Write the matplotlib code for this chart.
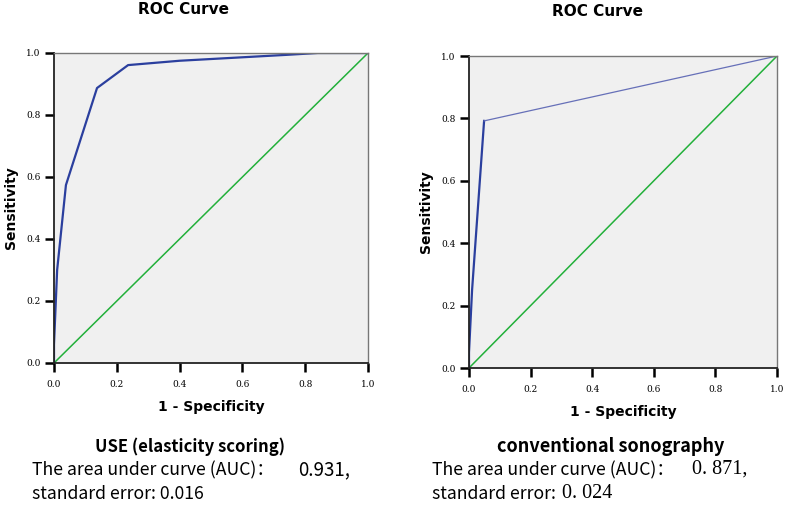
import matplotlib.pyplot as plt

# ROC points
use_fpr = [0.0, 0.0, 0.01, 0.038, 0.137, 0.236, 0.40, 0.74, 0.84, 1.0]
use_tpr = [0.0, 0.06, 0.30, 0.574, 0.887, 0.961, 0.975, 0.994, 1.0, 1.0]

sono_fpr = [0.0, 0.0, 0.01, 0.049, 1.0]
sono_tpr = [0.0, 0.05, 0.25, 0.792, 1.0]

ticks = [0.0, 0.2, 0.4, 0.6, 0.8, 1.0]
tick_labels = ["0.0", "0.2", "0.4", "0.6", "0.8", "1.0"]

W, H = 787, 507
fig = plt.figure(figsize=(W / 100, H / 100), dpi=100)
fig.patch.set_facecolor("white")

cap_font = ["Noto Sans CJK SC", "DejaVu Sans"]


def make_axes(x0, x1, ytop, ybot):
    return fig.add_axes([x0 / W, 1 - ybot / H, (x1 - x0) / W, (ybot - ytop) / H])


def tick_marks(ax):
    # outward tick marks drawn as short segments off the bottom / left spines
    bb = ax.get_position()
    lx = 9 / (bb.height * H)
    ly = 9 / (bb.width * W)
    xs, ys = [], []
    for t in ticks:
        xs += [t, t, None]
        ys += [0, -lx, None]
    ax.plot(xs, ys, color="black", lw=1.8, clip_on=False,
            transform=ax.get_xaxis_transform(), solid_capstyle="butt")
    xs, ys = [], []
    for t in ticks:
        xs += [0, -ly, None]
        ys += [t, t, None]
    ax.plot(xs, ys, color="black", lw=1.8, clip_on=False,
            transform=ax.get_yaxis_transform(), solid_capstyle="butt")


def style(ax, title, title_x, title_y):
    ax.set_facecolor("#f0f0f0")
    ax.set_xlim(0, 1)
    ax.set_ylim(0, 1)
    ax.plot([0, 1], [0, 1], color="#22b03a", lw=1.1)
    ax.set_xticks(ticks)
    ax.set_yticks(ticks)
    ax.set_xticklabels(tick_labels, family="DejaVu Serif", fontsize=6.5)
    ax.set_yticklabels(tick_labels, family="DejaVu Serif", fontsize=6.5)
    ax.tick_params(bottom=False, left=False, top=False, right=False)
    ax.tick_params(axis="x", pad=9)
    ax.tick_params(axis="y", pad=6)
    tick_marks(ax)
    for side in ["left", "bottom"]:
        ax.spines[side].set_color("#222222")
        ax.spines[side].set_linewidth(1.3)
    for side in ["right", "top"]:
        ax.spines[side].set_color("#777777")
        ax.spines[side].set_linewidth(1.0)
    ax.set_xlabel("1 - Specificity", fontsize=10, fontweight="bold", labelpad=8)
    ax.set_ylabel("Sensitivity", fontsize=10, fontweight="bold", labelpad=6)
    fig.text(title_x / W, 1 - title_y / H, title, ha="center", va="center",
             fontsize=11, fontweight="bold")


ax1 = make_axes(54, 368, 53, 363)
style(ax1, "ROC Curve", 184, 10)
ax1.plot(use_fpr, use_tpr, color="#2b3f9e", lw=1.6)

ax2 = make_axes(469, 777, 56, 368)
style(ax2, "ROC Curve", 597, 12)
ax2.plot(sono_fpr[:4], sono_tpr[:4], color="#2b3f9e", lw=1.6)
ax2.plot(sono_fpr[3:], sono_tpr[3:], color="#6670b8", lw=0.9)

# captions under the charts
fig.text(190 / W, 1 - 447 / H, "USE (elasticity scoring)", ha="center", va="center",
         fontsize=12, fontweight="bold", family=cap_font)
fig.text(32 / W, 1 - 470 / H, "The area under curve (AUC)\uff1a", ha="left",
         va="center", fontsize=12.7, family=cap_font)
fig.text(298 / W, 1 - 470 / H, "0.931,", ha="left", va="center",
         fontsize=13.5, family=cap_font)
fig.text(32 / W, 1 - 494 / H, "standard error: 0.016", ha="left", va="center",
         fontsize=12.7, family=cap_font)

fig.text(611 / W, 1 - 447 / H, "conventional sonography", ha="center", va="center",
         fontsize=13, fontweight="bold", family=cap_font)
fig.text(432 / W, 1 - 470 / H, "The area under curve (AUC)\uff1a", ha="left",
         va="center", fontsize=12.7, family=cap_font)
fig.text(692 / W, 1 - 469 / H, "0. 871,", ha="left", va="center", fontsize=14.5,
         family="Liberation Serif")
fig.text(432 / W, 1 - 494 / H, "standard error:", ha="left", va="center",
         fontsize=12.7, family=cap_font)
fig.text(562 / W, 1 - 493 / H, "0. 024", ha="left", va="center", fontsize=14.5,
         family="Liberation Serif")

fig.savefig("out.png", dpi=100)
